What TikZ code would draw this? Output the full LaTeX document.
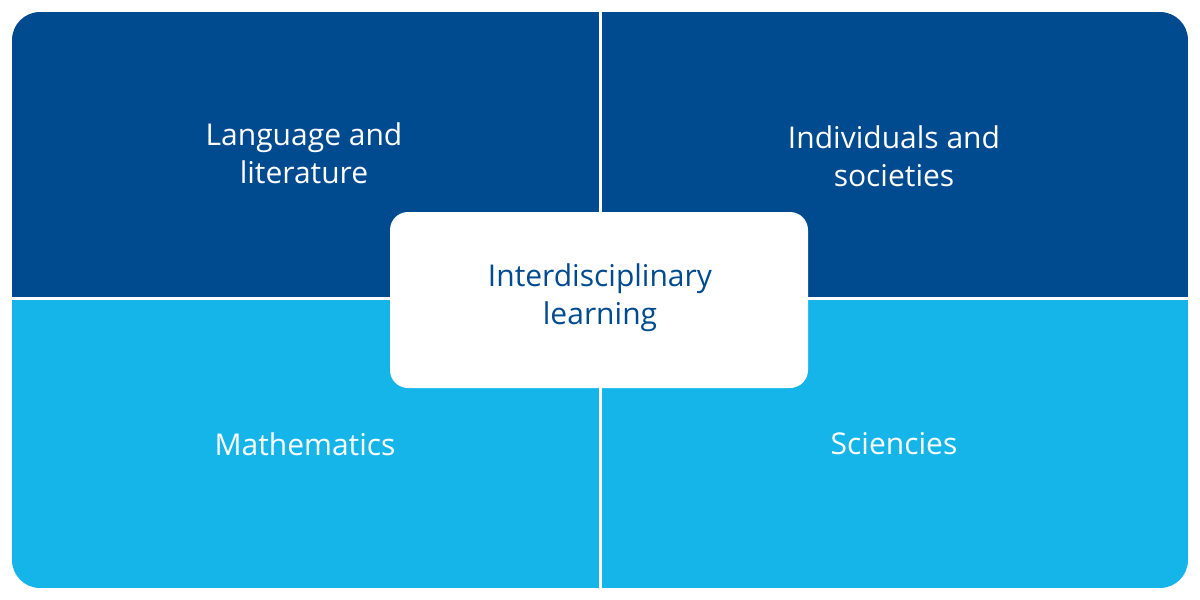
\documentclass[tikz,border=0pt]{standalone}
\usepackage{fontspec}
\setmainfont{Open Sans}
\definecolor{darkblue}{RGB}{0,74,143}
\definecolor{lightblue}{RGB}{21,181,234}
\tikzset{every picture/.style={line width=0.75pt}}
\tikzset{quadtext/.style={text=white,align=center,font=\fontsize{15}{19}\selectfont,inner sep=0.75pt}}

\begin{document}
\begin{tikzpicture}[x=0.5pt,y=0.5pt,yscale=-1,xscale=1]
\useasboundingbox (0,0) rectangle (1200,600);

% quadrants, clipped to outer rounded frame
\begin{scope}
\clip [rounded corners=14pt] (12,12) rectangle (1188,588);
\fill [darkblue] (12,12) rectangle (1188,298);
\fill [lightblue] (12,298) rectangle (1188,588);
\end{scope}
% dividers
\draw [white,line width=1.5pt] (600,12) -- (600,588);
\draw [white,line width=1.5pt] (12,298) -- (1188,298);
% centre box
\fill [white,rounded corners=9pt] (390,212) rectangle (808,388);

% Text Node
\node (lang) [quadtext] at (304,153) {Language and\\literature};
% Text Node
\node (indiv) [quadtext] at (894,156) {Individuals and\\societies};
% Text Node
\node (maths) [quadtext] at (305,444) {Mathematics};
% Text Node
\node (sci) [quadtext] at (894,444) {Sciencies};
% Text Node
\node (inter) [quadtext,text=darkblue] at (600,298) {Interdisciplinary\\learning};

\end{tikzpicture}
\end{document}
